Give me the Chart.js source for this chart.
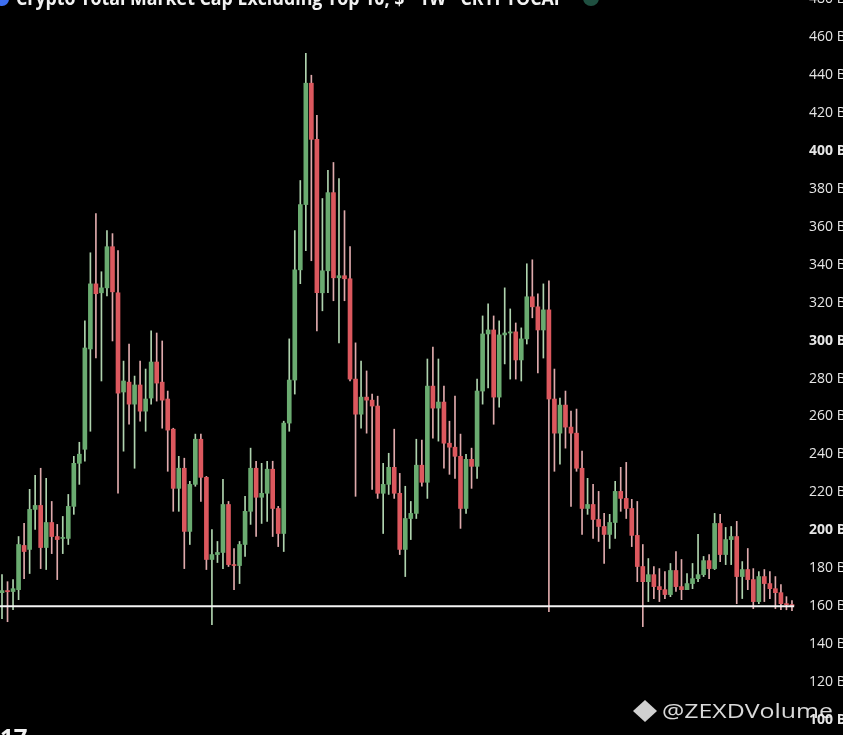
<!DOCTYPE html>
<html>
<head>
<meta charset="utf-8">
<script src="https://cdn.jsdelivr.net/npm/chart.js@4.4.1/dist/chart.umd.min.js"></script>
<style>
  html, body { margin: 0; padding: 0; background: #000; }
  #wrap { width: 843px; height: 735px; }
</style>
</head>
<body>
<div id="wrap"><canvas id="graficoVelas" width="843" height="735"></canvas></div>
<script>
// weekly candles, values in billions of $
var opens = [
  167.1, 168.2, 167.7, 168.7, 192.0, 189.9, 211.0, 213.1, 190.9, 204.1,
  196.7, 195.7, 195.7, 212.6, 235.3, 242.7, 295.6, 329.9, 325.2, 327.8,
  349.5, 325.2, 272.9, 278.1, 266.5, 276.6, 262.8, 269.7, 288.7, 278.1,
  269.2, 253.3, 222.1, 232.7, 199.4, 224.2, 248.0, 227.9, 184.6, 187.2,
  188.3, 213.6, 181.9, 181.4, 192.5, 210.0, 232.7, 217.4, 219.5, 232.2,
  211.5, 198.3, 256.5, 279.2, 337.3, 371.7, 435.7, 406.1, 325.2, 336.8,
  378.0, 333.1, 334.2, 332.6, 279.7, 261.2, 270.2, 268.6, 265.5, 219.5,
  224.2, 233.2, 219.5, 189.9, 206.2, 208.9, 234.3, 225.3, 276.0, 264.4,
  267.6, 245.9, 243.8, 239.0, 211.5, 237.4, 233.7, 273.4, 303.5, 305.6,
  270.2, 303.0, 304.0, 304.6, 289.8, 300.9, 323.1, 317.8, 305.6, 316.2,
  269.2, 251.2, 266.0, 254.4, 251.2, 232.7, 211.5, 213.6, 205.7, 202.0,
  197.8, 204.1, 220.5, 216.8, 211.5, 197.3, 180.9, 172.9, 176.6, 170.3,
  168.7, 166.1, 178.8, 170.3, 168.7, 171.9, 174.5, 176.6, 184.0, 179.8,
  203.6, 187.2, 195.1, 196.7, 175.6, 179.3, 174.0, 162.4, 175.6, 171.9,
  169.2, 167.1, 161.3, 160.8
];
var highs = [
  176.6, 172.9, 174.0, 196.7, 203.6, 221.6, 229.0, 232.7, 227.4, 215.2,
  203.1, 207.3, 218.9, 239.0, 246.4, 310.4, 346.3, 366.9, 336.3, 358.0,
  356.4, 347.4, 289.2, 298.2, 281.3, 289.2, 285.0, 305.1, 304.0, 299.8,
  273.4, 253.8, 239.0, 238.0, 225.8, 250.7, 250.7, 228.4, 200.4, 194.1,
  226.9, 215.2, 190.4, 194.1, 217.9, 243.3, 236.4, 235.3, 236.4, 236.4,
  212.6, 257.5, 300.9, 358.0, 384.4, 451.5, 439.9, 418.7, 374.9, 389.7,
  393.9, 385.4, 368.5, 349.5, 298.8, 289.2, 284.0, 271.8, 270.7, 235.3,
  240.6, 253.3, 230.0, 223.2, 215.2, 248.0, 247.5, 290.3, 296.6, 290.3,
  276.0, 257.5, 270.7, 250.7, 240.1, 243.3, 279.7, 313.0, 319.4, 313.0,
  310.4, 327.8, 316.7, 309.3, 306.7, 340.5, 342.6, 324.7, 329.9, 331.5,
  285.0, 269.7, 273.4, 262.8, 263.9, 241.7, 227.4, 224.2, 220.5, 208.9,
  208.4, 225.8, 233.2, 235.8, 216.3, 215.2, 192.5, 185.1, 180.9, 179.8,
  178.2, 182.5, 188.8, 184.6, 177.2, 182.5, 197.8, 186.2, 187.2, 208.9,
  208.4, 201.5, 202.0, 204.7, 183.5, 190.4, 179.8, 178.2, 179.3, 178.2,
  175.6, 171.4, 165.0, 162.9
];
var lows = [
  153.4, 151.8, 158.1, 163.4, 174.5, 177.2, 200.4, 179.8, 179.3, 187.7,
  174.0, 187.7, 192.5, 208.4, 224.2, 236.4, 252.2, 290.8, 278.7, 323.6,
  299.8, 219.5, 241.7, 255.9, 232.7, 257.5, 252.2, 266.5, 268.1, 253.8,
  231.1, 210.0, 210.0, 179.8, 192.5, 223.2, 215.2, 179.3, 150.2, 183.0,
  179.8, 180.9, 168.7, 171.9, 186.2, 203.1, 196.7, 203.6, 204.7, 196.7,
  191.4, 188.8, 252.2, 271.8, 330.0, 347.4, 342.1, 305.1, 315.7, 325.2,
  321.0, 298.8, 321.0, 278.7, 217.9, 253.8, 251.2, 221.6, 216.8, 198.3,
  218.9, 216.8, 187.2, 175.6, 195.1, 206.2, 223.2, 216.8, 248.5, 247.0,
  232.7, 229.5, 227.4, 201.0, 208.9, 222.1, 227.4, 266.5, 275.0, 255.9,
  264.9, 287.7, 279.7, 279.7, 278.7, 298.2, 312.0, 282.9, 290.8, 157.1,
  231.1, 234.8, 243.3, 212.6, 231.1, 197.8, 208.4, 195.7, 194.1, 182.5,
  190.4, 195.7, 210.0, 206.2, 191.4, 172.9, 149.2, 162.4, 164.0, 162.4,
  164.0, 165.0, 167.7, 163.4, 168.7, 169.2, 172.9, 175.6, 174.5, 179.3,
  183.5, 181.9, 181.9, 161.3, 164.0, 168.7, 158.7, 161.3, 162.4, 164.0,
  158.7, 158.1, 158.1, 157.6
];
var closes = [
  168.2, 167.6, 169.2, 192.5, 188.8, 211.0, 213.1, 190.9, 204.1, 196.7,
  195.1, 196.2, 212.6, 235.3, 240.1, 296.1, 329.9, 324.7, 327.8, 349.5,
  325.7, 272.3, 278.7, 266.5, 276.6, 262.8, 269.2, 288.7, 277.6, 268.6,
  252.8, 222.1, 232.7, 199.4, 224.2, 248.0, 227.9, 184.6, 187.2, 188.3,
  213.6, 181.9, 181.4, 192.5, 210.0, 232.7, 217.4, 219.5, 232.2, 211.5,
  198.3, 256.5, 279.2, 337.3, 371.7, 435.7, 406.1, 325.2, 336.8, 378.0,
  333.1, 334.2, 332.6, 279.7, 261.2, 270.2, 268.6, 265.5, 219.5, 224.2,
  233.2, 219.5, 189.9, 206.2, 208.9, 234.3, 225.3, 276.0, 264.4, 267.6,
  245.9, 243.8, 239.0, 211.5, 237.4, 233.7, 273.4, 303.5, 305.6, 270.2,
  303.0, 304.0, 304.6, 289.8, 300.9, 323.1, 317.8, 305.6, 316.2, 269.2,
  251.2, 266.0, 254.4, 251.2, 232.7, 211.5, 213.6, 205.7, 202.0, 197.8,
  204.1, 220.5, 216.8, 211.5, 197.3, 180.9, 172.9, 176.6, 170.3, 168.7,
  166.1, 178.8, 170.3, 168.7, 171.9, 174.5, 176.6, 184.0, 179.8, 203.6,
  187.2, 195.1, 196.7, 175.6, 179.3, 174.0, 162.4, 175.6, 171.9, 169.2,
  167.1, 161.3, 160.8, 160.3
];
var tickValues = [100, 120, 140, 160, 180, 200, 220, 240, 260, 280, 300,
  320, 340, 360, 380, 400, 420, 440, 460, 480];
var supportLevel = 160;
var titulo = 'Crypto Total Market Cap Excluding Top 10, $ \u00b7 1W \u00b7 CRYPTOCAP';
var marcaAgua = '@ZEXDVolume';

var verde = '#6aab70', rojo = '#dc585e';
var verdeMecha = '#afd3ae', rojoMecha = '#dfaaac';

var velas = opens.map(function (o, i) { return { x: i, y: [o, closes[i]] }; });
var mechas = lows.map(function (l, i) { return { x: i, y: [l, highs[i]] }; });
var sube = opens.map(function (o, i) { return closes[i] >= o; });

/* ------------------------- textos encima del grafico ------------------------- */
var rotulos = {
  id: 'rotulos',
  afterDraw: function (chart) {
    var c = chart.ctx;
    c.save();
    // icono azul + titulo (cortado arriba)
    c.fillStyle = '#3d6ff2';
    c.beginPath(); c.arc(2, -1, 7, 0, Math.PI * 2); c.fill();
    c.font = 'bold 19px "Open Sans"';
    var w = c.measureText(titulo).width;
    c.save();
    c.translate(16, 5);
    c.scale(549 / w, 1);
    c.fillStyle = '#f2f2f2';
    c.fillText(titulo, 0, 0);
    c.restore();
    c.fillStyle = '#1f4f40';
    c.beginPath(); c.arc(591, -2, 8, 0, Math.PI * 2); c.fill();

    // logo abajo a la izquierda
    c.font = 'bold 24px "Open Sans"';
    c.fillStyle = '#f2f2f2';
    c.fillText('17', 0, 746);

    // marca de agua
    c.fillStyle = '#d0d0d0';
    c.beginPath();
    c.moveTo(645, 700); c.lineTo(657, 711); c.lineTo(645, 722); c.lineTo(633, 711);
    c.closePath(); c.fill();
    c.font = '20px "Open Sans"';
    var w2 = c.measureText(marcaAgua).width;
    c.save();
    c.translate(662, 718);
    c.scale(171 / w2, 1);
    c.fillStyle = 'rgba(235,235,235,0.92)';
    c.fillText(marcaAgua, 0, 0);
    c.restore();
    c.restore();
  }
};

var ctx = document.getElementById('graficoVelas').getContext('2d');
var graficoVelas = new Chart(ctx, {
  type: 'bar',
  data: {
    datasets: [{
      type: 'line',
      label: 'Soporte',
      data: [{ x: -1, y: supportLevel }, { x: 143.4, y: supportLevel }],
      borderColor: '#f4f4f4',
      borderWidth: 2,
      pointRadius: 0,
      order: 0
    }, {
      label: 'Cuerpo',
      data: velas,
      backgroundColor: sube.map(function (s) { return s ? verde : rojo; }),
      borderWidth: 0,
      barThickness: 4,
      minBarLength: 1,
      grouped: false,
      order: 1
    }, {
      label: 'Mecha',
      data: mechas,
      backgroundColor: sube.map(function (s) { return s ? verdeMecha : rojoMecha; }),
      borderWidth: 0,
      barThickness: 1,
      grouped: false,
      order: 2
    }]
  },
  options: {
    responsive: false,
    animation: false,
    devicePixelRatio: 1,
    layout: { padding: 0 },
    plugins: { legend: { display: false }, tooltip: { enabled: false } },
    scales: {
      x: {
        type: 'linear',
        display: false,
        min: -0.362,
        max: 145.54,
        offset: false
      },
      y: {
        position: 'right',
        min: 92.07,
        max: 479.56,
        grid: { display: false, drawTicks: false },
        border: { display: false },
        afterBuildTicks: function (scale) {
          scale.ticks = tickValues.map(function (v) { return { value: v }; });
        },
        afterFit: function (scale) {
          scale.width = 37;
          scale.paddingTop = 0;
          scale.paddingBottom = 0;
        },
        ticks: {
          padding: 3,
          color: '#e6e6e6',
          font: function (c) {
            var fuerte = c.tick && c.tick.value % 100 === 0;
            return { family: 'Open Sans', size: 14, weight: fuerte ? 'bold' : 'normal' };
          },
          callback: function (v) { return v + ' B'; }
        }
      }
    }
  },
  plugins: [rotulos]
});
</script>
</body>
</html>
